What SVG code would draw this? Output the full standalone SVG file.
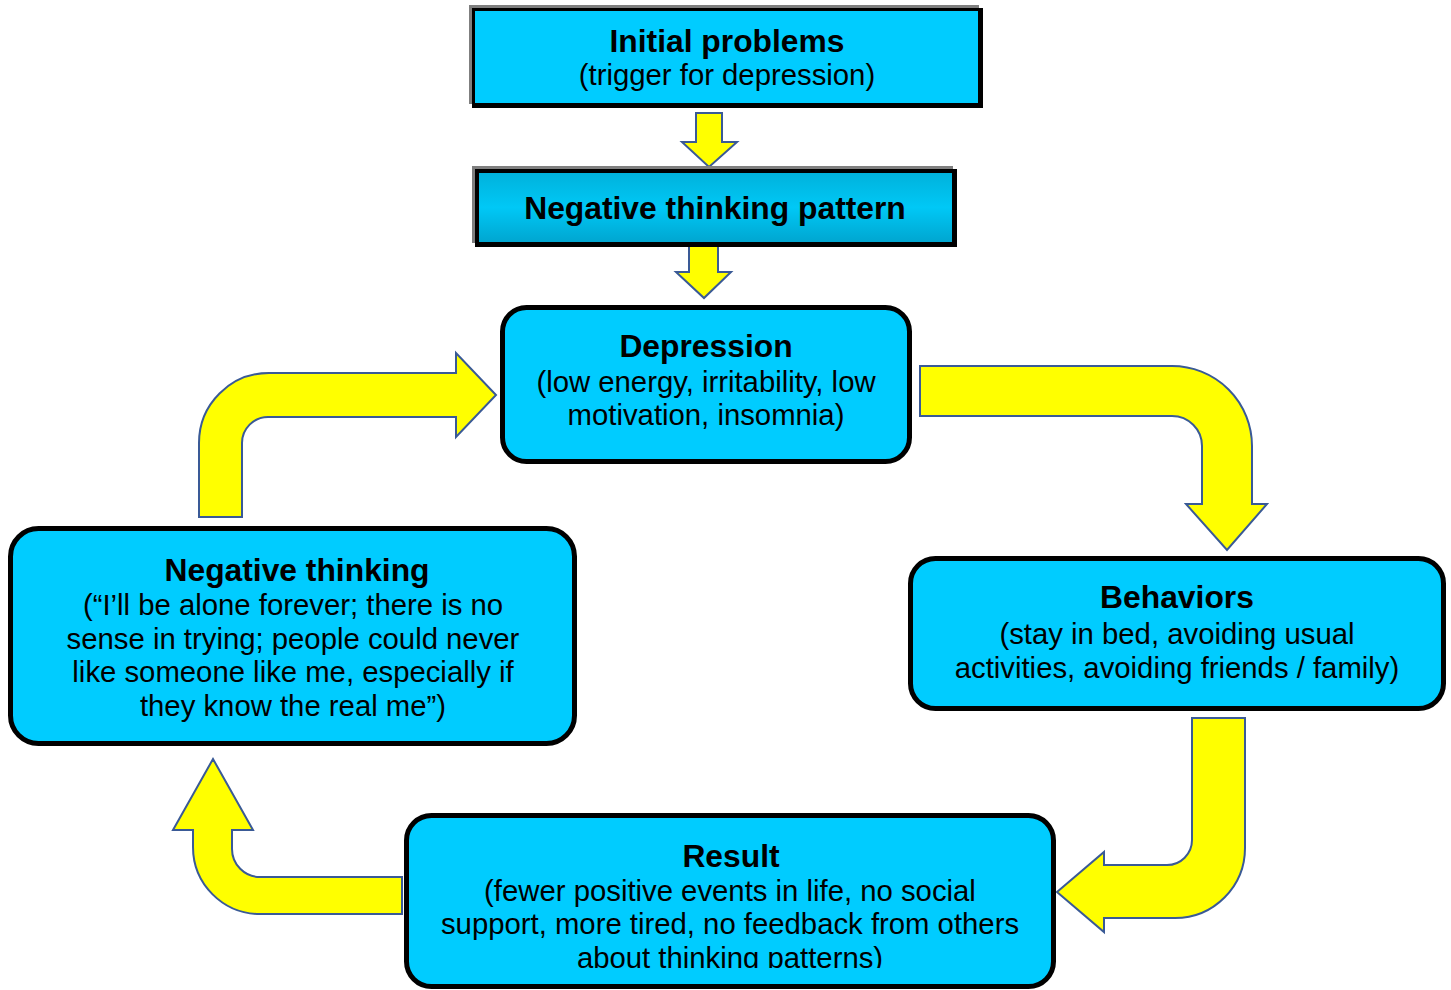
<svg xmlns="http://www.w3.org/2000/svg" width="1451" height="990" viewBox="0 0 1451 990">
<style>
.t{font-family:"Liberation Sans",Arial,sans-serif;fill:#000;text-anchor:middle}
.b{font-weight:bold;font-size:31.8px}
.r{font-size:29.3px}
.box{fill:#00ccff;stroke:#000;stroke-width:5}
.arr{fill:#ffff00;stroke:#3a5a96;stroke-width:2;stroke-linejoin:miter}
</style>
<defs>
<linearGradient id="g1" x1="0" y1="0" x2="0" y2="1">
<stop offset="0" stop-color="#00b2dc"/>
<stop offset="0.5" stop-color="#00c8f6"/>
<stop offset="1" stop-color="#00a6d0"/>
</linearGradient>
<clipPath id="clipRes"><rect x="400" y="810" width="660" height="158"/></clipPath>
</defs>
<rect width="1451" height="990" fill="#fff"/>
<g id="connectors">
<path class="arr" d="M696,113 H722 V142 H737 L709,167 L682,142 H696 Z"/>
<path class="arr" d="M689,243 H718 V272 H731 L704,298 L676,272 H689 Z"/>
<path class="arr" d="M199,517 V443 A70,70 0 0 1 269,373 H456 V353 L496,395 L456,437 V417 H268 A26,26 0 0 0 242,443 V517 Z"/>
<path class="arr" d="M920,366 H1172 A80,80 0 0 1 1252,446 V504 H1267 L1227,550 L1186,504 H1202 V446 A30,30 0 0 0 1172,416 H920 Z"/>
<path class="arr" d="M1245,718 V848 A70,70 0 0 1 1175,918 H1104 V932 L1057,892 L1104,852 V865 H1167 A25,25 0 0 0 1192,840 V718 Z"/>
<path class="arr" d="M402,877 H260 A28,28 0 0 1 232,849 V830 H253 L213,759 L173,830 H193 V847 A67,67 0 0 0 260,914 H402 Z"/>
</g>
<g id="initial">
<rect x="469" y="5" width="510" height="99" fill="#7f7f7f"/>
<rect x="472" y="8" width="511" height="100" fill="#000"/>
<rect x="475" y="11" width="503" height="92" fill="#00ccff"/>
<text class="t b" x="727" y="52">Initial problems</text>
<text class="t r" x="727" y="85">(trigger for depression)</text>
</g>
<g id="pattern">
<rect x="472" y="166" width="481" height="77" fill="#7f7f7f"/>
<rect x="475" y="169" width="482" height="78" fill="#000"/>
<rect x="479" y="173" width="473" height="69" fill="url(#g1)"/>
<text class="t b" x="715" y="219">Negative thinking pattern</text>
</g>
<g id="depression">
<rect class="box" x="502.5" y="307.5" width="407" height="154" rx="24"/>
<text class="t b" x="706" y="357">Depression</text>
<text class="t r" x="706" y="392">(low energy, irritability, low</text>
<text class="t r" x="706" y="425">motivation, insomnia)</text>
</g>
<g id="negthinking">
<rect class="box" x="10.5" y="528.5" width="564" height="215" rx="28"/>
<text class="t b" x="297" y="581">Negative thinking</text>
<text class="t r" x="293" y="615">(“I’ll be alone forever; there is no</text>
<text class="t r" x="293" y="649">sense in trying; people could never</text>
<text class="t r" x="293" y="682">like someone like me, especially if</text>
<text class="t r" x="293" y="716">they know the real me”)</text>
</g>
<g id="behaviors">
<rect class="box" x="910.5" y="558.5" width="533" height="150" rx="25"/>
<text class="t b" x="1177" y="608">Behaviors</text>
<text class="t r" x="1177" y="644">(stay in bed, avoiding usual</text>
<text class="t r" x="1177" y="678">activities, avoiding friends / family)</text>
</g>
<g id="result">
<rect class="box" x="406.5" y="815.5" width="647" height="171" rx="25"/>
<g clip-path="url(#clipRes)">
<text class="t b" x="731" y="867">Result</text>
<text class="t r" x="730" y="901">(fewer positive events in life, no social</text>
<text class="t r" x="730" y="934">support, more tired, no feedback from others</text>
<text class="t r" x="730" y="968">about thinking patterns)</text>
</g>
</g>
</svg>
